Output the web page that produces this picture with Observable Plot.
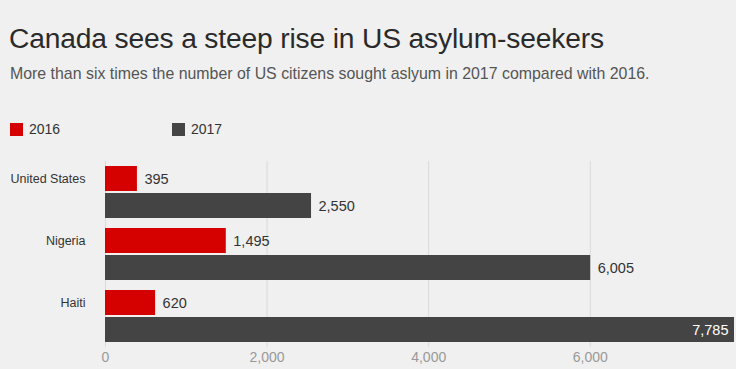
<!DOCTYPE html>
<html>
<head>
<meta charset="utf-8">
<script src="https://cdn.jsdelivr.net/npm/d3@7"></script>
<script src="https://cdn.jsdelivr.net/npm/@observablehq/plot@0.6"></script>
<style>
  html, body { margin: 0; padding: 0; background: #f0f0f0; }
  body { width: 736px; height: 369px; overflow: hidden; font-family: "Liberation Sans", Arial, sans-serif; }
  #title { position: absolute; left: 9px; top: 22px; font-size: 28.2px; color: #2a2a2a; font-weight: 400; white-space: nowrap; letter-spacing: -0.15px; }
  #subtitle { position: absolute; left: 10px; top: 65px; font-size: 15.9px; color: #555; white-space: nowrap; }
  #legend { position: absolute; left: 10px; top: 121px; font-size: 14px; color: #333; }
  .item { position: absolute; top: 0; white-space: nowrap; }
  .sw { display: inline-block; width: 13px; height: 13px; vertical-align: -2px; margin-right: 6px; }
  #chart { position: absolute; left: 0; top: 155px; }
</style>
</head>
<body>
<div id="title">Canada sees a steep rise in US asylum-seekers</div>
<div id="subtitle">More than six times the number of US citizens sought aslyum in 2017 compared with 2016.</div>
<div id="legend"></div>
<div id="chart"></div>
<script>
const countries = ["United States", "Nigeria", "Haiti"];
const years = ["2016", "2017"];
const values2016 = [395, 1495, 620];
const values2017 = [2550, 6005, 7785];
const xTicks = [0, 2000, 4000, 6000];
const colors = ["#d50000", "#444444"];

const data = countries.flatMap((c, i) => [
  {country: c, year: years[0], value: values2016[i]},
  {country: c, year: years[1], value: values2017[i]}
]);

const legend = document.getElementById("legend");
const legendX = [0, 162];
years.forEach((y, i) => {
  const it = document.createElement("div");
  it.className = "item";
  it.style.left = legendX[i] + "px";
  it.innerHTML = `<span class="sw" style="background:${colors[i]}"></span>${y}`;
  legend.appendChild(it);
});

const fmt = d3.format(",");
const inside = d => d.value > 7000;

const chart = Plot.plot({
  width: 736,
  height: 214,
  marginLeft: 105,
  marginRight: 2,
  marginTop: 6,
  marginBottom: 22,
  style: {background: "transparent", color: "#999", fontSize: "14px", fontFamily: "'Liberation Sans', Arial, sans-serif"},
  x: {domain: [0, 7785], ticks: xTicks, tickFormat: fmt, tickSize: 0, tickPadding: 5, label: null},
  fy: {domain: countries, padding: 0, axis: null, label: null},
  y: {domain: years, paddingInner: 0.074, paddingOuter: 0.185, axis: null, label: null},
  color: {domain: years, range: colors},
  marks: [
    Plot.ruleX(xTicks, {stroke: "#dadada", strokeWidth: 1}),
    Plot.barX(data, {x: "value", y: "year", fy: "country", fill: "year"}),
    Plot.text(data.filter(d => !inside(d)), {x: "value", y: "year", fy: "country", text: d => fmt(d.value), textAnchor: "start", dx: 7, fill: "#333", fontSize: 14.5}),
    Plot.text(data.filter(inside), {x: "value", y: "year", fy: "country", text: d => fmt(d.value), textAnchor: "end", dx: -6, fill: "#fff", fontSize: 14.5}),
    Plot.text(countries, {fy: d => d, y: () => years[0], x: () => 0, text: d => d, textAnchor: "end", dx: -20, fill: "#333", fontSize: 12.5})
  ]
});
document.getElementById("chart").appendChild(chart);
</script>
</body>
</html>
